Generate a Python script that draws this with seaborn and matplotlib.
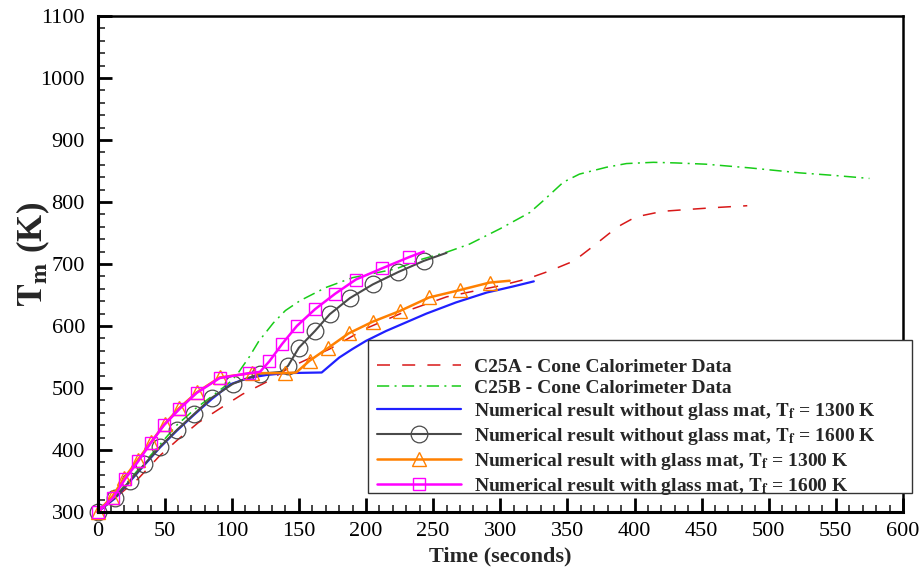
import matplotlib
matplotlib.use("Agg")
import matplotlib.pyplot as plt
from matplotlib.patches import Rectangle
from matplotlib.ticker import MultipleLocator
import seaborn as sns

# Cone calorimeter measurements
t_c25a = [0, 15, 30, 46, 60, 75, 92, 108, 128, 143, 173, 200, 230, 260, 282, 300,
          320, 337, 355, 370, 381, 390, 401, 421, 440, 460, 484]
T_c25a = [300, 326, 353, 390, 417, 444, 468, 490, 512, 533, 563, 596, 624, 647, 657, 665,
          676, 689, 705, 730, 749, 763, 776, 785, 788, 791, 794]

t_c25b = [0, 15, 33, 45, 59, 72.5, 86, 95, 100, 105, 113, 120, 131, 140, 151, 170, 190,
          222, 242, 260, 277, 300, 322, 332, 347, 359, 379, 394, 414, 431, 453, 486,
          523, 548, 575]
T_c25b = [300, 330, 375, 405, 440, 466, 488, 503, 512, 525, 550, 575, 605, 625, 641, 662,
          678, 692, 708, 719, 732, 757, 783, 802, 832, 845, 856, 862, 864, 863, 861, 855,
          847, 843, 838]

# Numerical results
t_bare_1300 = [0, 13, 24, 35, 46.5, 59, 72, 85, 99, 112, 126, 140, 167, 180, 190, 200,
               215, 230, 245, 267, 290, 310, 325]
T_bare_1300 = [300, 322, 349, 376, 404, 431, 457, 482, 506, 516, 521, 524, 525, 549, 563,
               576, 592, 606, 620, 638, 654, 664, 672]

t_bare_1600 = [0, 13, 24, 35, 46.5, 59, 72, 85, 101, 121, 137, 142, 150, 162, 173, 188,
               205, 224, 243, 260]
T_bare_1600 = [300, 323, 350, 377, 405, 432, 458, 484, 507, 523, 526, 536, 565, 592, 619,
               645, 667, 687, 705, 718]

t_mat_1300 = [0, 11, 20, 30, 40, 50, 61, 74, 91, 115, 139.5, 148, 158, 172, 187, 205, 225,
              247, 270, 292, 307]
T_mat_1300 = [300, 325, 355, 384, 413, 442, 468, 493, 517, 524, 524, 525, 544, 565, 588,
              607, 624, 646, 658, 670, 673]

t_mat_1600 = [0, 11.8, 20.5, 30.4, 39.6, 49.5, 61, 73.8, 91, 113, 121, 128, 137.5, 148.5,
              162, 177, 192.5, 212, 232, 243]
T_mat_1600 = [300, 323, 353, 382, 411, 440, 466, 492, 516, 524, 526, 543, 571, 600, 627,
              652, 675, 693, 711, 720]

labels = [
    "C25A - Cone Calorimeter Data",
    "C25B - Cone Calorimeter Data",
    r"Numerical result without glass mat, $\mathbf{T_f}$ = 1300 K",
    r"Numerical result without glass mat, $\mathbf{T_f}$ = 1600 K",
    r"Numerical result with glass mat, $\mathbf{T_f}$ = 1300 K",
    r"Numerical result with glass mat, $\mathbf{T_f}$ = 1600 K",
]

sns.set_theme(style="white")
plt.rcParams["font.family"] = ["Liberation Serif", "DejaVu Serif"]
plt.rcParams["mathtext.fontset"] = "stix"


def marked(n, skip):
    return [i for i in range(n) if i not in skip]


fig = plt.figure(figsize=(9.23, 5.71), dpi=100)
ax = fig.add_axes([97.5 / 923, 59 / 571, 805.5 / 923, 496 / 571])

sns.lineplot(x=t_c25a, y=T_c25a, ax=ax, color="#d81818", lw=1.1,
             linestyle=(0, (8.5, 8)), label=labels[0], sort=False)
sns.lineplot(x=t_c25b, y=T_c25b, ax=ax, color="#18cc18", lw=1.1,
             linestyle=(0, (8, 3.5, 1.3, 3.5)), label=labels[1], sort=False)
sns.lineplot(x=t_bare_1300, y=T_bare_1300, ax=ax, color="#2020ff", lw=1.6,
             label=labels[2], sort=False)
sns.lineplot(x=t_bare_1600, y=T_bare_1600, ax=ax, color="#4a4a4a", lw=1.5,
             marker="o", ms=12, mfc="none", mec="#4a4a4a", mew=0.9,
             markevery=marked(len(t_bare_1600), {10, len(t_bare_1600) - 1}),
             label=labels[3], sort=False, clip_on=False)
sns.lineplot(x=t_mat_1300, y=T_mat_1300, ax=ax, color="#ff8000", lw=1.8,
             marker="^", ms=10, mfc="none", mec="#ff8000", mew=1.0,
             markevery=marked(len(t_mat_1300), {11, len(t_mat_1300) - 1}),
             label=labels[4], sort=False, clip_on=False)
sns.lineplot(x=t_mat_1600, y=T_mat_1600, ax=ax, color="#ff00ff", lw=1.8,
             marker="s", ms=8.6, mfc="none", mec="#ff00ff", mew=1.0,
             markevery=marked(len(t_mat_1600), {10, len(t_mat_1600) - 1}),
             label=labels[5], sort=False, clip_on=False)

ax.set_xlim(0, 600)
ax.set_ylim(300, 1100)
ax.xaxis.set_major_locator(MultipleLocator(50))
ax.xaxis.set_minor_locator(MultipleLocator(10))
ax.yaxis.set_major_locator(MultipleLocator(100))
ax.yaxis.set_minor_locator(MultipleLocator(20))
ax.tick_params(which="major", direction="in", length=10, width=2, labelsize=16,
               colors="black", bottom=True, left=True, top=False, right=False)
ax.tick_params(axis="x", which="major", pad=7)
ax.tick_params(axis="y", which="major", pad=9)
ax.tick_params(which="minor", direction="in", length=5, width=1.2,
               bottom=True, left=True, top=False, right=False)
for side, sp in ax.spines.items():
    sp.set_color("black")
    sp.set_linewidth(2.2 if side in ("left", "bottom") else 1.8)

ax.set_xlabel("Time (seconds)", fontsize=16, fontweight="bold", labelpad=4)
ax.set_ylabel(r"$\mathbf{T_m}$ (K)", fontsize=25, fontweight="bold")
ax.yaxis.set_label_coords(-46 / 805.5, 0.52)

# legend box spans past the right edge of the plot frame
fig.patches.append(Rectangle((368 / 923, 1 - 493 / 571), 544 / 923, 153 / 571,
                             transform=fig.transFigure, fill=True, facecolor="white",
                             edgecolor="#333333", lw=1.0, zorder=5))
handles = ax.get_lines()
leg = fig.legend(handles=handles[:6], labels=labels, loc="upper left",
                 bbox_to_anchor=(377 / 923, 1 - 358 / 571), bbox_transform=fig.transFigure,
                 frameon=False, borderpad=0, borderaxespad=0, handlelength=4.3,
                 handletextpad=0.7, labelspacing=0.2, prop={"weight": "bold", "size": 14})
leg.set_zorder(6)
if ax.get_legend() is not None:
    ax.get_legend().remove()

fig.savefig("out.png", dpi=100)
